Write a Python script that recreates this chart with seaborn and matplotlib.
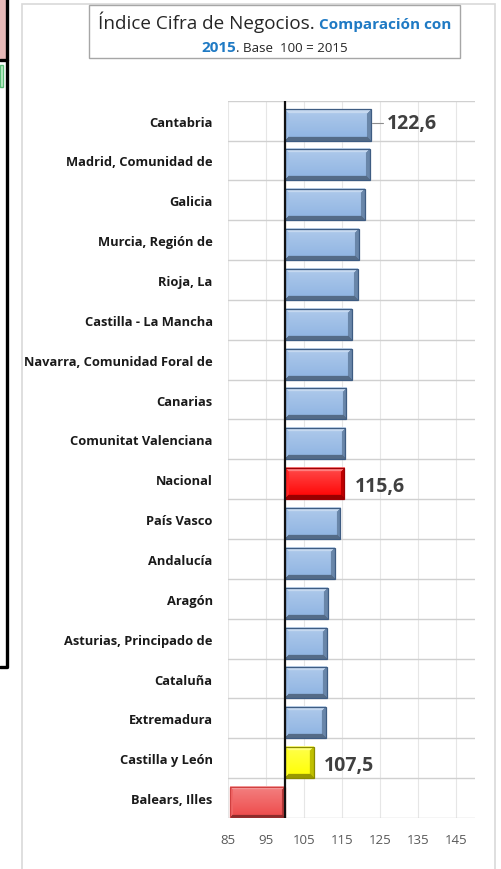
"""Índice Cifra de Negocios por comunidad autónoma, base 100 = 2015."""

import matplotlib.pyplot as plt
import matplotlib.patches as mpatches
import numpy as np
import pandas as pd
import seaborn as sns
from matplotlib.colors import to_rgb
from matplotlib.ticker import FuncFormatter

REGIONS = [
    "Cantabria",
    "Madrid, Comunidad de",
    "Galicia",
    "Murcia, Región de",
    "Rioja, La",
    "Castilla - La Mancha",
    "Navarra, Comunidad Foral de",
    "Canarias",
    "Comunitat Valenciana",
    "Nacional",
    "País Vasco",
    "Andalucía",
    "Aragón",
    "Asturias, Principado de",
    "Cataluña",
    "Extremadura",
    "Castilla y León",
    "Balears, Illes",
]
VALUES = [122.6, 122.3, 121.0, 119.4, 119.1, 117.6, 117.6, 116.1, 115.8,
          115.6, 114.6, 113.1, 111.3, 111.0, 111.0, 110.7, 107.5, 85.6]
LABELLED = {"Cantabria": "122,6", "Nacional": "115,6", "Castilla y León": "107,5"}
TICK_VALUES = [85, 95, 105, 115, 125, 135, 145]
BASE = 100

TITLE_LINE1 = [("Índice Cifra de Negocios. ", 13.6, "normal", "#262626"),
               ("Comparación con", 11.0, "bold", "#1F7AC4")]
TITLE_LINE2 = [("2015", 11.0, "bold", "#1F7AC4"),
               (". Base  100 = 2015", 9.6, "normal", "#262626")]

BLUE = "#8DB3E2"
COLORS = {"Nacional": "#FF0000", "Castilla y León": "#FFFF00", "Balears, Illes": "#EE4A4A"}
EDGES = {"Nacional": "#9C0006", "Castilla y León": "#8A8A00", "Balears, Illes": "#D04040"}

W, H = 501, 870


def fx(px):
    return px / W


def fy(py):
    return 1 - py / H


def bevel_image(color, wpx, hpx, band=4):
    """Build a small bevelled face for one bar."""
    base = np.array(to_rgb(color))
    yy, xx = np.mgrid[0:hpx, 0:wpx]
    grad = (yy / max(hpx - 1, 1))[..., None]
    img = (base + (1 - base) * 0.3) * (1 - grad) + base * grad
    d_top, d_bot = yy, hpx - 1 - yy
    d_left, d_right = xx, wpx - 1 - xx
    dmin = np.minimum.reduce([d_top, d_bot, d_left, d_right])
    edge = dmin < band
    img[edge & (dmin == d_top)] = base + (1 - base) * 0.5
    img[edge & (dmin == d_left) & (dmin != d_top)] = base + (1 - base) * 0.15
    img[edge & (dmin == d_right) & (dmin != d_top)] = base * 0.75
    img[edge & (dmin == d_bot)] = base * 0.6
    return img


def title_line(fig, pieces, baseline_px, center_px):
    """Write a run of differently styled pieces, centred on one line."""
    renderer = fig.canvas.get_renderer()
    texts = []
    x = 0.0
    for text, size, weight, color in pieces:
        t = fig.text(0, fy(baseline_px), text, fontsize=size, fontweight=weight,
                     color=color, va="baseline", ha="left")
        width = t.get_window_extent(renderer).width
        texts.append((t, x))
        x += width
    start = center_px - x / 2
    for t, offset in texts:
        t.set_x(fx(start + offset))


df = pd.DataFrame({"region": REGIONS, "value": VALUES})
df["delta"] = df["value"] - BASE

sns.set_theme(style="white")
plt.rcParams["font.family"] = ["Open Sans", "DejaVu Sans"]

fig = plt.figure(figsize=(W / 100, H / 100), dpi=100)
ax = fig.add_axes([fx(228), fy(819), fx(475) - fx(228), fy(101.7) - fy(819)])

palette = [COLORS.get(r, BLUE) for r in REGIONS]
sns.barplot(data=df, x="delta", y="region", hue="region", palette=palette,
            legend=False, orient="h", width=0.78, saturation=1, ax=ax, zorder=3)

# bevel effect on each bar
px_per_unit = (475 - 228) / 65
for patch, region in zip(ax.patches, REGIONS):
    patch.set_y(patch.get_y() + 0.11)
    x0, y0 = patch.get_x(), patch.get_y()
    w, h = patch.get_width(), patch.get_height()
    color = COLORS.get(region, BLUE)
    wpx = max(int(abs(w) * px_per_unit), 2)
    img = bevel_image(color, wpx, 31, band=4 if region != "Balears, Illes" else 3)
    left, right = min(x0, x0 + w), max(x0, x0 + w)
    ax.imshow(img, extent=(left, right, y0 + h, y0), aspect="auto",
              interpolation="bilinear", zorder=3.5)
    patch.set_edgecolor(EDGES.get(region, "#3E5C82"))
    patch.set_linewidth(0.9)
    patch.set_zorder(4)
    patch.set_facecolor("none")

ax.set_xlim(85 - BASE, 150 - BASE)
ax.set_ylim(len(REGIONS) - 0.5, -0.5)

# grid: vertical at ticks, horizontal at category boundaries
ax.set_xticks([t - BASE for t in TICK_VALUES])
ax.xaxis.set_major_formatter(FuncFormatter(lambda v, _: f"{v + BASE:.0f}"))
ax.grid(axis="x", color="#E6E6E6", linewidth=0.8, zorder=0)
ax.set_yticks(np.arange(len(REGIONS) + 1) - 0.5, minor=True)
ax.grid(axis="y", which="minor", color="#D0D0D0", linewidth=1.0, zorder=1)
ax.grid(axis="y", which="major", visible=False)
ax.tick_params(axis="both", which="both", length=0)
ax.tick_params(axis="x", colors="#595959", labelsize=9.5, pad=10.5)
ax.tick_params(axis="y", pad=11)
for lab in ax.get_yticklabels():
    lab.set_fontweight("bold")
    lab.set_fontsize(9.3)
    lab.set_color("#1A1A1A")
for side in ["top", "right", "left", "bottom"]:
    ax.spines[side].set_visible(False)
ax.set_xlabel("")
ax.set_ylabel("")
ax.axvline(0, color="#111111", linewidth=1.6, zorder=5)

# value labels
for i, (region, delta) in enumerate(zip(REGIONS, df["delta"])):
    if region not in LABELLED:
        continue
    if region == "Cantabria":
        ax.plot([delta + 0.4, delta + 3.2], [i + 0.05, i + 0.05], color="#8C8C8C",
                linewidth=0.8, zorder=5)
        ax.text(delta + 4.3, i + 0.05, LABELLED[region], ha="left", va="center",
                fontsize=14, fontweight="bold", color="#404040", zorder=6)
    else:
        ax.text(delta + 2.7, i + 0.16, LABELLED[region], ha="left", va="center",
                fontsize=14, fontweight="bold", color="#404040", zorder=6)

# chart frame and title box
fig.patches.append(mpatches.Rectangle((fx(22), fy(880)), fx(495) - fx(22), fy(5) - fy(880),
                                      transform=fig.transFigure, fill=False,
                                      edgecolor="#D9D9D9", linewidth=1.2))
fig.patches.append(mpatches.Rectangle((fx(89), fy(59)), fx(460) - fx(89), fy(6) - fy(59),
                                      transform=fig.transFigure, fill=False,
                                      edgecolor="#A6A6A6", linewidth=1.0))
title_line(fig, TITLE_LINE1, 29, 274.5)
title_line(fig, TITLE_LINE2, 52.5, 274.5)

# remnant of the neighbouring chart on the left edge
fig.patches.append(mpatches.Rectangle((0, fy(61)), fx(7), fy(0) - fy(61) + 0.01,
                                      transform=fig.transFigure, facecolor="#E6B8B7",
                                      edgecolor="none"))
fig.patches.append(mpatches.Rectangle((0, fy(88)), fx(3), fy(66) - fy(88),
                                      transform=fig.transFigure, facecolor="#C6EFCE",
                                      edgecolor="#5BBE79", linewidth=1.0))
fig.lines.append(plt.Line2D([fx(7), fx(7), 0], [1.01, fy(668), fy(668)],
                            transform=fig.transFigure, color="#000000", linewidth=2.4))
fig.lines.append(plt.Line2D([0, fx(7)], [fy(61), fy(61)],
                            transform=fig.transFigure, color="#000000", linewidth=2.4))

fig.savefig("out.png", dpi=100)
